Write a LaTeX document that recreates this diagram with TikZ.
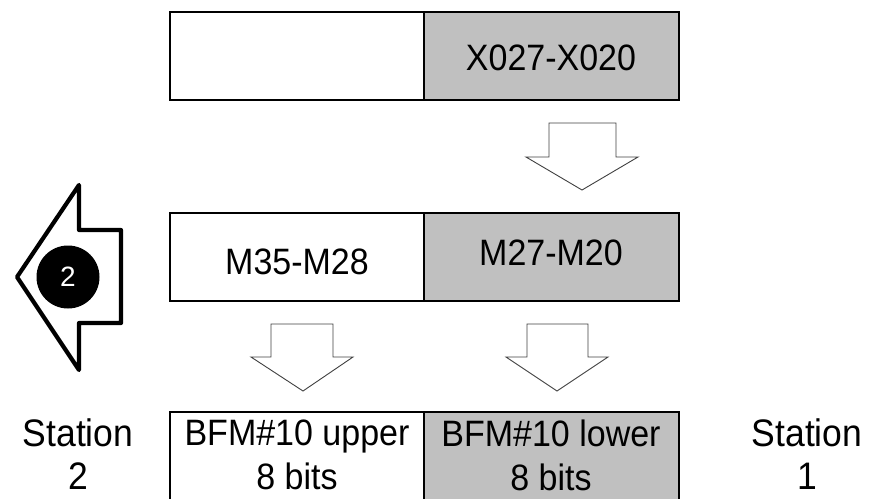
\documentclass[tikz,border=0pt]{standalone}
\usepackage{fontspec}
\setmainfont{Liberation Sans}
\definecolor{cellgray}{HTML}{C0C0C0}
\begin{document}
\begin{tikzpicture}[x=1pt,y=-1pt,
  cell/.style={draw=black,line width=1.4pt,minimum width=254pt,minimum height=88pt,inner sep=0pt,outer sep=0pt,anchor=north west},
  graycell/.style={cell,fill=cellgray},
  txt/.style={font=\fontsize{34}{40.5}\selectfont,align=center,inner sep=0pt,yscale=1.08,transform shape},
  sttxt/.style={txt,font=\fontsize{35.5}{40.5}\selectfont},
  blockarrow/.style={draw=black!75,line width=0.9pt,fill=white,line join=miter}]
\useasboundingbox (0,0) rectangle (869,498);
\clip (0,0) rectangle (869,498);
% top row
\node[cell] (tl) at (170,12) {};
\node[graycell,minimum width=255pt] (tr) at (424,12) {};
\node[txt] (ttext) at (551,58) {X027-X020};
% middle row
\node[cell] (ml) at (170,213) {};
\node[graycell,minimum width=255pt] (mr) at (424,213) {};
\node[txt] (mltext) at (297,262) {M35-M28};
\node[txt] (mrtext) at (551,253) {M27-M20};
% bottom row
\node[cell,minimum height=100pt] (bl) at (170,412) {};
\node[graycell,minimum width=255pt,minimum height=100pt] (br) at (424,412) {};
\node[txt] (bltext) at (297,455) {BFM\#10 upper\\8 bits};
\node[txt] (brtext) at (551,455) {BFM\#10 lower\\8 bits};
% station labels
\node[sttxt] (st2) at (78,454) {Station\\2};
\node[sttxt] (st1) at (807,454) {Station\\1};
% block arrows
\draw[blockarrow] (549,123) -- (616,123) -- (616,157) -- (638,157) -- (582,190) -- (526,157) -- (549,157) -- cycle;
\draw[blockarrow] (271,324) -- (333,324) -- (333,357) -- (353,357) -- (303,391) -- (251,357) -- (271,357) -- cycle;
\draw[blockarrow] (527,324) -- (588,324) -- (588,357) -- (608,357) -- (557,391) -- (506,357) -- (527,357) -- cycle;
% big left arrow
\draw[line width=4.2pt,fill=white,line join=round] (17,277) -- (79,185) -- (79,230) -- (121,230) -- (121,323) -- (79,323) -- (79,370) -- cycle;
\node[circle,fill=black,minimum size=63pt,inner sep=0pt,text=white,font=\fontsize{28}{30}\selectfont] (badge) at (68,277) {2};
\end{tikzpicture}
\end{document}
